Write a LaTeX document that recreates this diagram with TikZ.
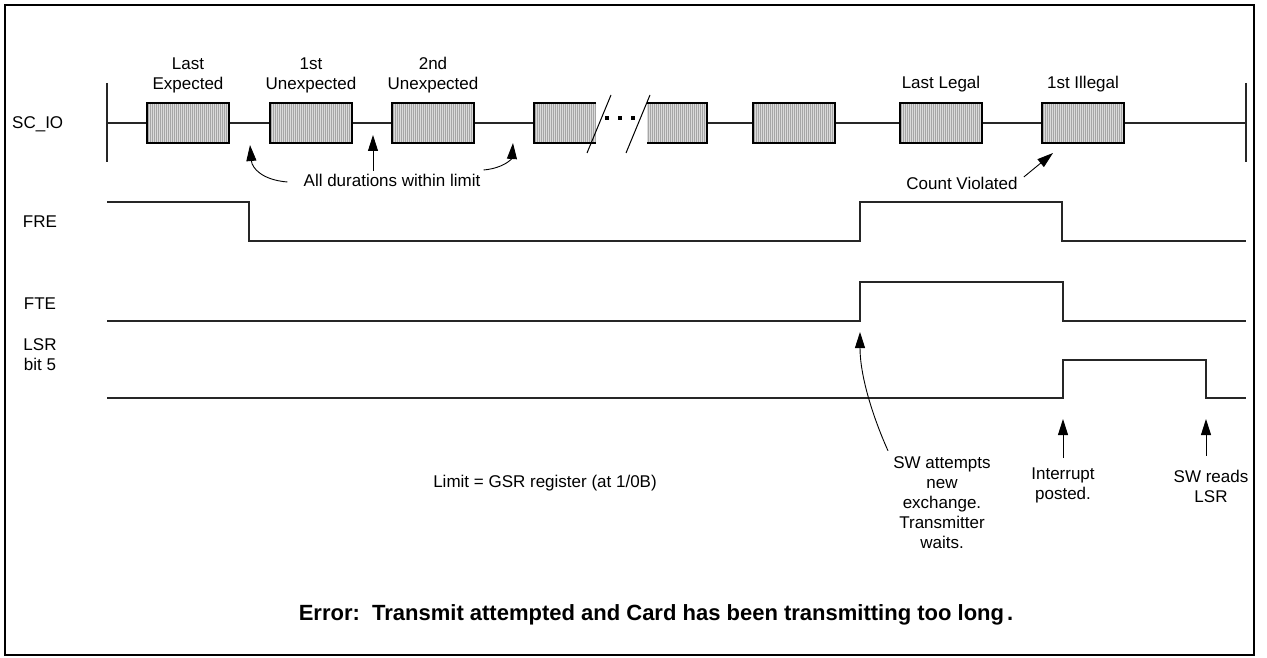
\documentclass[tikz,border=0pt]{standalone}
\usepackage{fontspec}
\setmainfont{Liberation Sans}
\usetikzlibrary{arrows.meta}
\newcommand\hatchfill[2]{%
  \fill[gray!28] (#1,103) rectangle (#2,143);
  \begin{scope}
    \clip (#1,103) rectangle (#2,143);
    \foreach \i in {0,...,45} \draw[gray!70, line width=0.55pt] ({#1+1.2+\i*2.0},103) -- ++(0,40);
  \end{scope}}
\begin{document}
\begin{tikzpicture}[x=1pt,y=-1pt,
  sig/.style={line width=1.2pt, black!85},
  boxline/.style={line width=1.8pt},
  lbl/.style={font=\fontsize{17}{20}\selectfont, align=center, inner sep=0pt},
  arr/.style={line width=0.9pt, -{Triangle[length=16pt,width=10pt]}},
  slash/.style={line width=1pt}
]
\useasboundingbox (0,0) rectangle (1267,658);
\draw[line width=2.4pt] (5,5) rectangle (1254,655);

% signal labels
\node[lbl, anchor=west] (lsc) at (12,124) {SC\_IO};
\node[lbl] (lfre) at (40,222) {FRE};
\node[lbl] (lfte) at (40,304) {FTE};
\node[lbl] (llsr) at (40,355) {LSR\\bit 5};

% SC_IO line
\draw[sig] (107,83) -- (107,162);
\draw[sig] (1246,83) -- (1246,162);
\draw[sig] (107,123) -- (596,123);
\draw[sig] (647,123) -- (1246,123);

% boxes
\foreach \a/\b in {147/229, 270/352, 392/474, 753/835, 900/982, 1042/1124}{
  \hatchfill{\a}{\b}
  \draw[boxline] (\a,103) rectangle (\b,143);
}
\hatchfill{534}{596}
\draw[boxline] (596,103) -- (534,103) -- (534,143) -- (596,143);
\hatchfill{647}{707}
\draw[boxline] (647,103) -- (707,103) -- (707,143) -- (647,143);

% break marks
\draw[slash] (587,153) -- (611,95);
\draw[slash] (626,153) -- (650,95);
\foreach \x in {607,620,633} \fill (\x-1.6,116.4) rectangle (\x+1.6,119.6);

% box labels
\node[lbl] (tle) at (188,75.5) {Last\\Expected};
\node[lbl] (tu1) at (311,75.5) {1st\\Unexpected};
\node[lbl] (tu2) at (433,75.5) {2nd\\Unexpected};
\node[lbl] (tll) at (941,84) {Last Legal};
\node[lbl] (til) at (1083,84) {1st Illegal};

% waveforms
\draw[sig] (107,202) -- (249,202) -- (249,241) -- (860,241) -- (860,202) -- (1062,202) -- (1062,241) -- (1246,241);
\draw[sig] (107,321) -- (860,321) -- (860,282) -- (1063,282) -- (1063,321) -- (1246,321);
\draw[sig] (107,398) -- (1063,398) -- (1063,360) -- (1206,360) -- (1206,398) -- (1246,398);

% annotations
\node[lbl] (dur) at (392,180) {All durations within limit};
\node[lbl] (cnt) at (962,183) {Count Violated};
\node[lbl] (lim) at (545,483) {Limit = GSR register (at 1/0B)};
\node[lbl] (swa) at (942,503) {SW attempts\\new\\exchange.\\Transmitter\\waits.};
\node[lbl] (intp) at (1063,485) {Interrupt\\posted.};
\node[lbl] (swr) at (1211,486) {SW reads\\LSR};
\node[font=\bfseries\fontsize{22}{26}\selectfont, inner sep=0pt] (err) at (656,615) {Error:\ \ Transmit attempted and Card has been transmitting too long\hspace{3pt}.};

% arrow targets
\coordinate (t1) at (250,145);
\coordinate (t2) at (373,135);
\coordinate (t3) at (513,143);
\coordinate (t4) at (1053,153);
\coordinate (t5) at (860,332);
\coordinate (t6) at (1063,419);
\coordinate (t7) at (1206,419);

\draw[arr] ([xshift=-16pt,yshift=-2pt]dur.west) .. controls (262,180) and (252,168) .. (t1);
\draw[arr] ([yshift=3pt]dur.north -| t2) -- (t2);
\draw[arr] ([xshift=3pt,yshift=10pt]dur.east) .. controls (505,168) and (512,158) .. (t3);
\draw[arr] ([xshift=6pt,yshift=6pt]cnt.east) -- (t4);
\draw[arr] ([xshift=-54pt,yshift=6pt]swa.north) .. controls (872,415) and (860,375) .. (t5);
\draw[arr] ([yshift=9pt]intp.north) -- (t6);
\draw[arr] ([xshift=-5pt,yshift=14pt]swr.north) -- (t7);
\end{tikzpicture}
\end{document}
